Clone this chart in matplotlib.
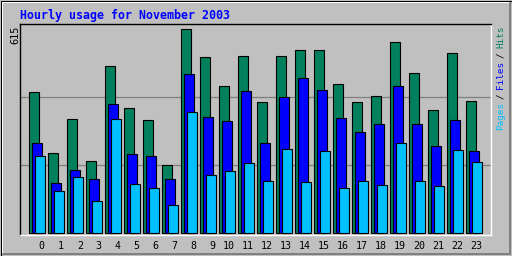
import numpy as np
import matplotlib
matplotlib.use("Agg")
import matplotlib.pyplot as plt
from matplotlib.patches import Rectangle

W, H = 512, 256
DPI = 100

BG = "#c0c0c0"
DARK = "#808080"
HIT_COLOR = "#00805c"
FILE_COLOR = "#0000ff"
PAGE_COLOR = "#00c0ff"

TITLE = "Hourly usage for November 2003"
hours = list(range(24))
hour_labels = [str(h) for h in hours]

hits = [427, 242, 345, 218, 503, 376, 342, 206, 615, 530, 445, 533,
        397, 533, 551, 551, 451, 397, 415, 576, 482, 370, 542, 400]
files = [273, 151, 191, 164, 388, 239, 233, 164, 479, 351, 339, 430,
         273, 412, 467, 433, 348, 306, 330, 445, 330, 264, 342, 248]
pages = [233, 127, 170, 97, 345, 148, 136, 85, 364, 176, 188, 212,
         158, 254, 155, 248, 136, 158, 145, 273, 158, 142, 251, 215]

y_max = max(hits)

fig = plt.figure(figsize=(W / DPI, H / DPI), dpi=DPI)
fig.patch.set_facecolor(BG)

# background / bevel frame, drawn in pixel coordinates
bg = fig.add_axes([0, 0, 1, 1])
bg.set_xlim(0, W)
bg.set_ylim(H, 0)
bg.axis("off")
bg.add_patch(Rectangle((0, 0), W, H, facecolor=BG, edgecolor="none"))
bg.fill([1, W - 1, W - 3, 3, 3, 1], [1, 1, 3, 3, H - 3, H - 1], color="white", lw=0)
bg.fill([W - 1, W - 1, 1, 3, W - 3, W - 3], [1, H - 1, H - 1, H - 3, H - 3, 3], color=DARK, lw=0)
bg.add_patch(Rectangle((0.5, 0.5), W - 1, H - 1, fill=False, edgecolor="black", lw=0.72))

# plot area: x=20..491, y=24..235 px
px_l, px_r, px_t, px_b = 20, 491, 24, 235
ax = fig.add_axes([px_l / W, (H - px_b) / H, (px_r - px_l) / W, (px_b - px_t) / H])
ax.set_facecolor(BG)

pitch = 19.0
xmin = -9.3 / pitch
ax.set_xlim(xmin, xmin + (px_r - px_l) / pitch)
scale = (233 - 29.3) / y_max
ax.set_ylim(-(px_b - 233) / scale, (233 - px_t) / scale)

for v in (y_max / 3, 2 * y_max / 3):
    ax.axhline(v, color=DARK, lw=0.9, zorder=0)

x = np.array(hours, dtype=float)
bw = 10 / pitch
off = 3 / pitch
ax.bar(x, hits, width=bw, align="edge", color=HIT_COLOR, edgecolor="black", lw=0.8, zorder=2)
ax.bar(x + off, files, width=bw, align="edge", color=FILE_COLOR, edgecolor="black", lw=0.8, zorder=3)
ax.bar(x + 2 * off, pages, width=bw, align="edge", color=PAGE_COLOR, edgecolor="black", lw=0.8, zorder=4)

for side in ("top", "left"):
    ax.spines[side].set_color("black")
for side in ("bottom", "right"):
    ax.spines[side].set_color("white")
for s in ax.spines.values():
    s.set_linewidth(1.0)

ax.set_yticks([])
ax.set_xticks(x + 15.5 / pitch, labels=hour_labels, ha="right")
ax.tick_params(axis="x", length=0, pad=4, labelsize=7.2)
for t in ax.get_xticklabels():
    t.set_family("DejaVu Sans Mono")

fig.text(px_l / W, 1 - 19 / H, TITLE, color=FILE_COLOR, family="DejaVu Sans Mono",
         weight="bold", fontsize=8.35, va="baseline", ha="left")

fig.text(15 / W, 1 - 26 / H, str(y_max), rotation=90, family="DejaVu Sans Mono",
         fontsize=7.4, va="top", ha="center")

# right legend: Pages / Files / Hits, read bottom to top
char = 5.15
base_y = 130
pieces = [("Pages", 0, PAGE_COLOR), ("/", 6, "black"), ("Files", 8, FILE_COLOR),
          ("/", 14, "black"), ("Hits", 16, HIT_COLOR)]
for txt, k, col in pieces:
    fig.text(500.5 / W, 1 - (base_y - char * k) / H, txt, rotation=90,
             rotation_mode="anchor", ha="left", va="center", color=col,
             family="DejaVu Sans Mono", fontsize=6.7)

fig.savefig("out.png", dpi=DPI, facecolor=BG)
